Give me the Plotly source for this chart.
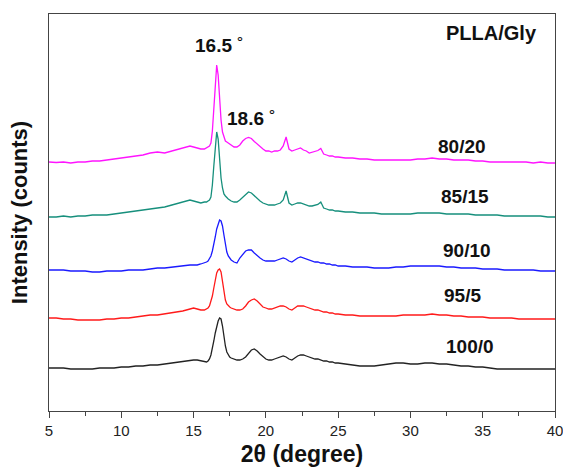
import plotly.graph_objects as go

# 2-theta sampling (degree)
two_theta = [
    5.0, 5.5, 6.0, 6.5, 7.0, 7.5, 8.0, 8.5, 9.0, 9.5, 10.0, 10.5, 11.0, 11.5, 12.0, 12.5, 13.0, 13.5, 14.0,
    14.25, 14.5, 14.75, 15.0, 15.25, 15.5, 15.75,
    15.9, 16.0, 16.1, 16.2, 16.3, 16.4, 16.5, 16.6, 16.7, 16.8, 16.9, 17.0, 17.1, 17.2, 17.3, 17.4, 17.5,
    17.6, 17.8, 18.0, 18.2, 18.4, 18.6, 18.8, 19.0, 19.2, 19.4, 19.6, 19.8, 20.0, 20.2, 20.4, 20.6, 20.8, 21.0,
    21.2, 21.4, 21.6, 21.8, 22.0, 22.2, 22.4, 22.6, 22.8, 23.0, 23.2, 23.4, 23.6, 23.8, 24.0, 24.2, 24.4, 24.6,
    24.8, 25.0,
    25.5, 26.0, 26.5, 27.0, 27.5, 28.0, 28.5, 29.0, 29.5, 30.0, 30.5, 31.0, 31.5, 32.0, 32.5, 33.0, 33.5, 34.0,
    34.5, 35.0, 35.5, 36.0, 36.5, 37.0, 37.5, 38.0, 38.5, 39.0, 39.5, 40.0,
]

# Raw intensities (counts) for each PLLA/Gly ratio
i_100_0 = [
    430, 430, 430, 420, 420, 420, 420, 430, 430, 430, 440, 440, 450, 450, 460, 460, 470, 480, 490,
    500, 500, 510, 510, 510, 500, 490,
    490, 500, 520, 560, 620, 700, 780, 850, 900, 930, 920, 850, 740, 650, 590, 560, 540,
    530, 520, 510, 510, 520, 540, 580, 610, 620, 600, 570, 540, 520, 510, 510, 520, 530, 540,
    550, 540, 520, 510, 530, 550, 560, 560, 550, 540, 530, 520, 520, 510, 500, 500, 490, 490,
    480, 480,
    470, 460, 450, 450, 450, 460, 470, 480, 480, 470, 470, 480, 480, 470, 470, 460, 450, 450,
    440, 440, 430, 420, 420, 420, 420, 420, 420, 420, 420, 420,
]
i_95_5 = [
    430, 430, 420, 420, 410, 410, 410, 410, 420, 420, 430, 430, 440, 450, 460, 460, 470, 480, 490,
    500, 510, 520, 530, 520, 510, 510,
    520, 530, 550, 590, 650, 730, 810, 880, 910, 920, 890, 800, 690, 610, 570, 550, 540,
    530, 520, 510, 510, 520, 550, 590, 610, 620, 600, 570, 540, 530, 520, 520, 530, 540, 550,
    550, 540, 520, 510, 530, 550, 550, 550, 540, 530, 520, 510, 510, 500, 490, 490, 480, 480,
    470, 470,
    460, 460, 450, 450, 450, 450, 450, 450, 460, 460, 460, 460, 470, 460, 460, 450, 450, 440,
    440, 440, 430, 430, 430, 430, 420, 420, 420, 420, 420, 420,
]
i_90_10 = [
    410, 410, 410, 400, 400, 400, 390, 390, 400, 400, 400, 410, 410, 410, 420, 430, 430, 440, 450,
    450, 460, 460, 460, 460, 470, 480,
    490, 500, 520, 550, 600, 660, 740, 820, 880, 910, 900, 850, 760, 660, 590, 550, 530,
    510, 490, 480, 530, 570, 600, 610, 610, 580, 550, 530, 510, 500, 500, 500, 500, 510, 520,
    530, 520, 500, 490, 510, 530, 540, 530, 520, 510, 500, 490, 490, 480, 480, 470, 470, 460,
    460, 450,
    450, 440, 440, 440, 430, 430, 430, 440, 440, 450, 450, 450, 450, 450, 440, 440, 430, 430,
    430, 420, 420, 420, 410, 410, 410, 410, 410, 400, 400, 400,
]
i_85_15 = [
    440, 440, 450, 440, 450, 450, 460, 460, 460, 470, 480, 490, 500, 510, 520, 530, 540, 560, 580,
    590, 600, 610, 600, 590, 580, 590,
    590, 600, 610, 640, 760, 950, 1170, 1290, 1220, 1010, 830, 730, 670, 650, 630, 620, 610,
    600, 590, 590, 610, 640, 670, 690, 680, 650, 620, 600, 580, 570, 560, 560, 560, 570, 580,
    610, 700, 580, 560, 570, 580, 580, 570, 560, 550, 550, 560, 565, 590, 530, 520, 510, 510,
    500, 500,
    490, 490, 480, 480, 480, 470, 470, 470, 470, 470, 480, 480, 480, 480, 470, 470, 470, 470,
    460, 460, 460, 460, 450, 450, 450, 450, 450, 450, 440, 440,
]
i_80_20 = [
    490, 485, 490, 480, 490, 490, 500, 500, 510, 520, 530, 540, 550, 560, 580, 590, 580, 600, 620,
    630, 640, 650, 640, 630, 620, 620,
    630, 640, 650, 680, 800, 1020, 1290, 1460, 1360, 1120, 910, 790, 730, 700, 690, 680, 670,
    660, 640, 640, 660, 700, 725, 735, 725, 695, 670, 640, 620, 600, 600, 590, 600, 600, 610,
    650, 740, 620, 600, 610, 620, 630, 610, 600, 580, 590, 595, 605, 625, 570, 560, 550, 550,
    540, 540,
    530, 530, 520, 520, 510, 510, 510, 510, 510, 510, 520, 520, 530, 520, 520, 510, 510, 510,
    500, 500, 490, 490, 490, 490, 490, 490, 480, 490, 480, 480,
]

# Stacking offsets (counts) and styles, bottom to top
samples = ["100/0", "95/5", "90/10", "85/15", "80/20"]
intensities = [i_100_0, i_95_5, i_90_10, i_85_15, i_80_20]
offsets = [0, 500, 1000, 1500, 2000]
colors = ["#222222", "#ff1a1a", "#1a1aff", "#168f7c", "#ff14ff"]

fig = go.Figure()
for name, inten, off, col in zip(samples, intensities, offsets, colors):
    fig.add_trace(go.Scatter(
        x=two_theta,
        y=[v + off for v in inten],
        mode="lines",
        name=name,
        line=dict(color=col, width=1.3),
        showlegend=False,
    ))

bold = "Liberation Sans, Arial, sans-serif"

# Sample labels next to each pattern
label_pos = [(34.1, 643), (33.6, 1160), (33.9, 1610), (33.8, 2143), (33.6, 2643)]
for name, (lx, ly) in zip(samples, label_pos):
    fig.add_annotation(x=lx, y=ly, text="<b>%s</b>" % name, showarrow=False,
                       font=dict(family=bold, size=19, color="#111111"))

# Peak positions and series title
fig.add_annotation(x=16.8, y=3660, text="<b>16.5</b> ˚", showarrow=False,
                   font=dict(family=bold, size=19, color="#111111"))
fig.add_annotation(x=19.0, y=2930, text="<b>18.6</b> ˚", showarrow=False,
                   font=dict(family=bold, size=19, color="#111111"))
fig.add_annotation(x=35.6, y=3780, text="<b>PLLA/Gly</b>", showarrow=False,
                   font=dict(family=bold, size=20, color="#111111"))

fig.update_layout(
    width=563,
    height=470,
    margin=dict(l=49, r=8, t=14, b=59),
    paper_bgcolor="white",
    plot_bgcolor="white",
    font=dict(family=bold, color="#222222"),
)

fig.update_xaxes(
    range=[5, 40],
    automargin=False,
    tickmode="linear",
    tick0=5,
    dtick=5,
    ticks="outside",
    ticklen=6,
    tickwidth=1.3,
    tickcolor="#444444",
    ticklabeloverflow="allow",
    minor=dict(ticks="outside", ticklen=4, tickwidth=1.2, tickcolor="#444444", dtick=2.5, tick0=5),
    tickfont=dict(family=bold, size=15, color="#222222"),
    showline=True,
    linecolor="#444444",
    linewidth=1.3,
    mirror=True,
    showgrid=False,
    zeroline=False,
    title=dict(text="<b>2θ (degree)</b>", font=dict(family=bold, size=23, color="#111111"), standoff=7),
)
fig.update_yaxes(
    range=[0, 3970],
    automargin=False,
    showticklabels=False,
    ticks="",
    showline=True,
    linecolor="#444444",
    linewidth=1.3,
    mirror=True,
    showgrid=False,
    zeroline=False,
    title=dict(text="<b>Intensity (counts)</b>", font=dict(family=bold, size=22, color="#111111"), standoff=14),
)

fig.write_html("out.html")
